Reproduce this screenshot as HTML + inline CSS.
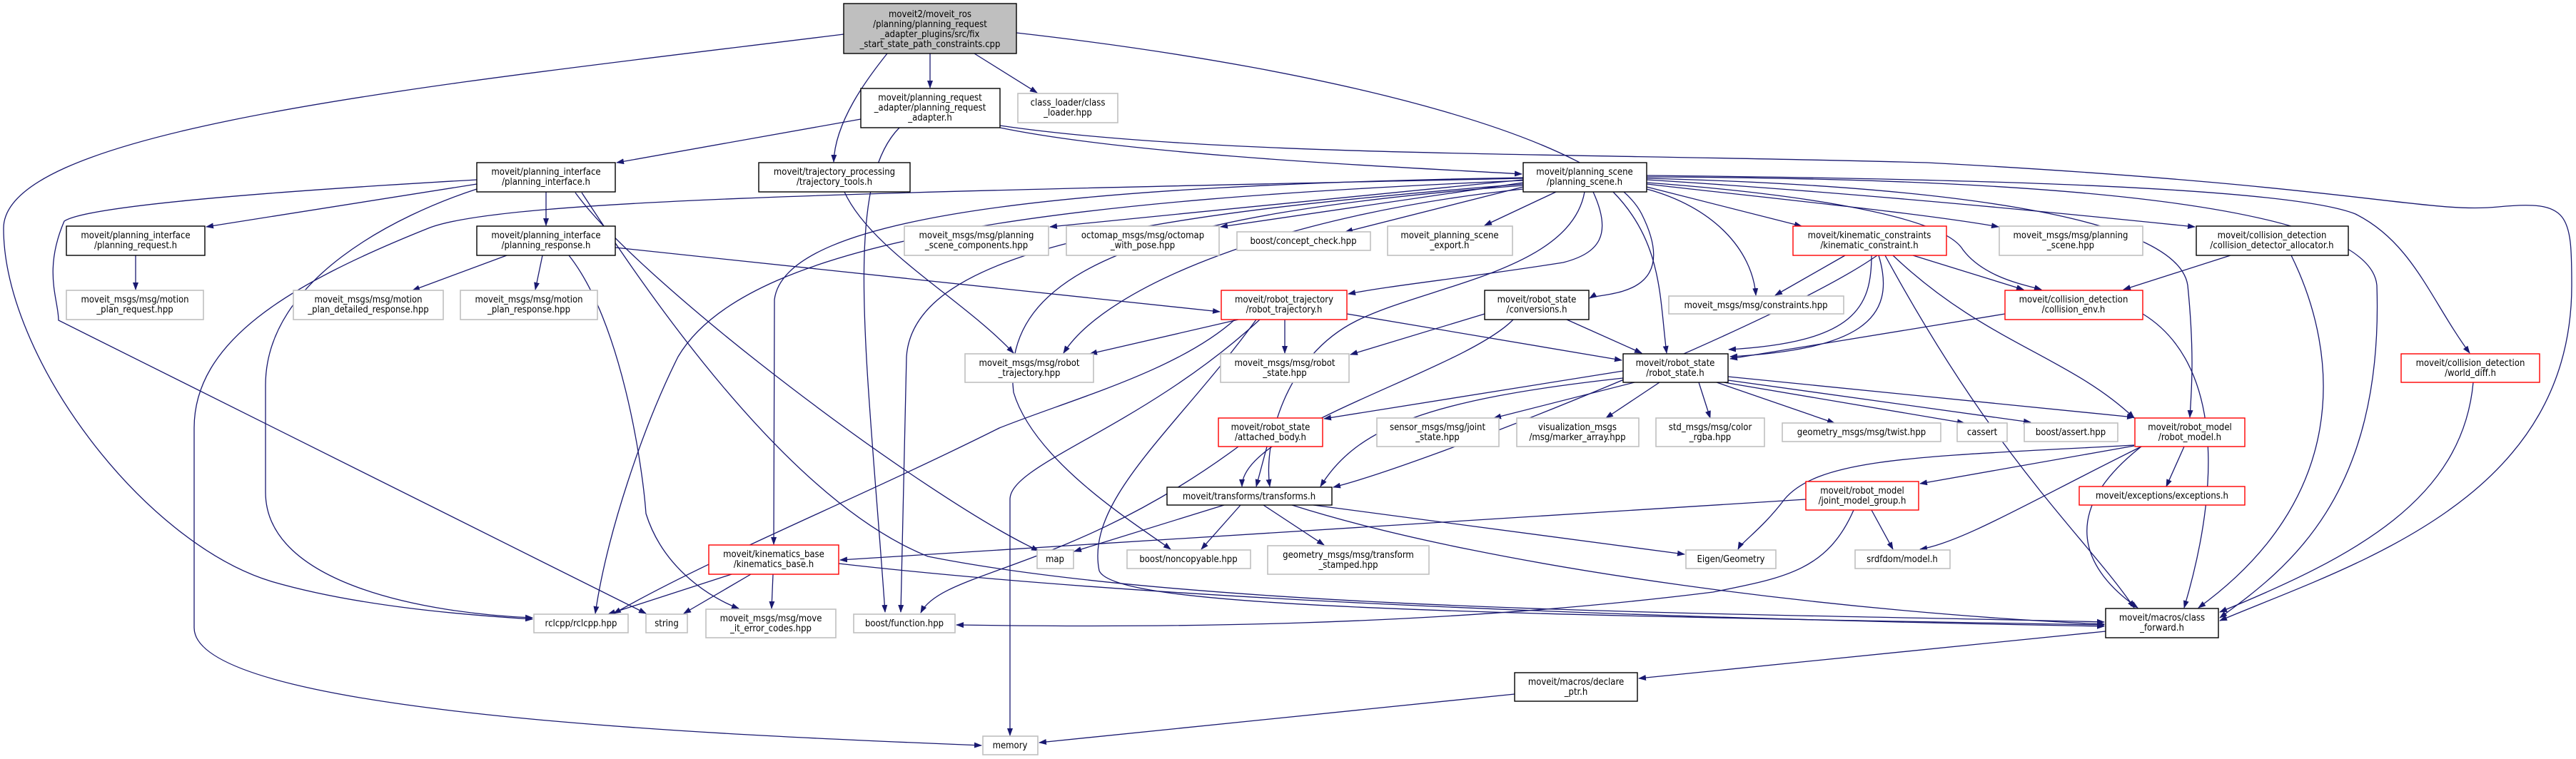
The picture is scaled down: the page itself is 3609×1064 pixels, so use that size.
<!DOCTYPE html>
<html><head><meta charset="utf-8"><style>
html,body{margin:0;padding:0;background:#fff}
svg{display:block}
text{font-family:"DejaVu Sans Condensed","Liberation Sans Narrow","Liberation Sans",sans-serif;font-size:13px;fill:#000;text-anchor:middle}
.e{fill:none;stroke:#191970;stroke-width:1.3}
.k{fill:#fff;stroke:#000;stroke-width:1.4}
.g{fill:#fff;stroke:#bfbfbf;stroke-width:1.6}
.r{fill:#fff;stroke:#ff0000;stroke-width:1.4}
.root{fill:#bfbfbf;stroke:#000;stroke-width:1.4}
</style></head><body>
<svg width="3609" height="1064" viewBox="0 0 3609 1064" xmlns="http://www.w3.org/2000/svg">
<defs><marker id="a" markerWidth="11" markerHeight="8" refX="10" refY="4" orient="auto" markerUnits="userSpaceOnUse"><path d="M0,0 L11,4 L0,8z" fill="#191970"/></marker></defs>
<g marker-end="url(#a)">
<path class="e" d="M1182,48 C600,120 5,180 5,320 C5,500 200,760 380,815 C500,850 650,862 746,868"/>
<path class="e" d="M1303,75 L1303,123"/>
<path class="e" d="M1365,75 L1453,130"/>
<path class="e" d="M1243,75 C1215,110 1170,170 1168,227"/>
<path class="e" d="M1424,46 C1900,100 2250,200 2300,300 C2360,420 2240,410 2227,418"/>
<path class="e" d="M1206,167 L864,228"/>
<path class="e" d="M1401,179 C1600,220 2000,236 2132,244"/>
<path class="e" d="M1401,176 C1700,220 2200,214 2700,228 C3300,260 3400,300 3500,290 C3600,280 3603,300 3603,400 C3603,700 3300,790 3110,870"/>
<path class="e" d="M1260,179 C1180,260 1215,500 1240,858"/>
<path class="e" d="M668,258 L289,318"/>
<path class="e" d="M765,269 L765,316"/>
<path class="e" d="M668,252 C350,270 120,290 90,310 C60,380 82,420 82,449 L905,860"/>
<path class="e" d="M668,265 C560,300 372,390 372,540 L372,690 C372,820 600,860 746,866"/>
<path class="e" d="M806,270 C900,400 1300,700 1455,772"/>
<path class="e" d="M815,270 C900,400 1100,700 1300,780 C1700,860 2500,860 2948,872"/>
<path class="e" d="M710,358 L578,407"/>
<path class="e" d="M760,358 L750,406"/>
<path class="e" d="M862,347 L1709,437"/>
<path class="e" d="M797,358 C870,450 900,650 905,720 C930,800 1000,840 1035,853"/>
<path class="e" d="M190,358 L190,406"/>
<path class="e" d="M1183,269 C1220,350 1350,420 1420,495"/>
<path class="e" d="M2134,252 L1471,318"/>
<path class="e" d="M2134,256 L1710,318"/>
<path class="e" d="M2134,262 L1885,325"/>
<path class="e" d="M2180,269 L2080,316"/>
<path class="e" d="M2232,269 C2260,330 2240,355 2190,368 C2050,390 1950,400 1889,412"/>
<path class="e" d="M2260,269 C2330,340 2325,420 2335,495"/>
<path class="e" d="M2220,269 C2200,380 2000,400 1900,450 C1800,500 1770,620 1779,682"/>
<path class="e" d="M2307,262 L2524,317"/>
<path class="e" d="M2307,258 C2500,280 2700,300 2800,318"/>
<path class="e" d="M2307,252 C2600,270 2900,300 3075,318"/>
<path class="e" d="M2307,256 C2500,270 2720,300 2750,350 C2780,390 2840,400 2860,406"/>
<path class="e" d="M2307,246 C2700,250 3200,260 3300,300 C3380,340 3405,420 3460,495"/>
<path class="e" d="M2307,250 C2700,260 3050,300 3065,400 C3075,500 3070,550 3068,585"/>
<path class="e" d="M2307,248 C2900,250 3320,290 3330,400 C3340,700 3200,800 3110,866"/>
<path class="e" d="M2307,265 C2400,290 2455,350 2460,414"/>
<path class="e" d="M2134,265 C1800,300 1550,400 1490,495"/>
<path class="e" d="M2134,249 C1500,260 1100,300 1085,420 L1084,763"/>
<path class="e" d="M2134,253 C1500,280 1050,330 950,500 C900,600 850,750 834,860"/>
<path class="e" d="M2134,258 C1600,300 1280,350 1270,500 L1262,858"/>
<path class="e" d="M2134,250 C1200,270 700,280 600,320 C400,400 272,480 272,600 L272,880 C272,1000 1000,1030 1375,1045"/>
<path class="e" d="M2134,260 C1600,300 1400,380 1420,550 C1450,650 1600,740 1640,770"/>
<path class="e" d="M1735,448 L1527,496"/>
<path class="e" d="M1800,448 L1800,495"/>
<path class="e" d="M1887,440 L2272,505"/>
<path class="e" d="M1730,448 C1650,520 1500,560 1400,600 C1200,700 1000,780 860,860"/>
<path class="e" d="M1765,448 C1600,600 1415,650 1415,700 L1415,1031"/>
<path class="e" d="M1760,448 C1650,600 1520,700 1540,800 C1560,850 2000,860 2948,876"/>
<path class="e" d="M2080,440 L1892,497"/>
<path class="e" d="M2195,448 L2300,495"/>
<path class="e" d="M2120,448 C2050,520 1740,600 1740,682"/>
<path class="e" d="M2585,358 L2487,414"/>
<path class="e" d="M2680,358 L2835,406"/>
<path class="e" d="M2622,358 C2622,430 2600,480 2422,490"/>
<path class="e" d="M2632,358 C2660,450 2600,490 2424,500"/>
<path class="e" d="M2652,358 C2780,480 2900,500 2990,586"/>
<path class="e" d="M2641,358 C2800,650 2920,750 2990,852"/>
<path class="e" d="M2630,358 C2500,450 2000,650 1868,683"/>
<path class="e" d="M3125,358 L2975,406"/>
<path class="e" d="M3210,358 C3280,500 3290,700 3080,852"/>
<path class="e" d="M2809,440 L2424,503"/>
<path class="e" d="M3002,440 C3100,500 3120,650 3060,852"/>
<path class="e" d="M3465,536 C3450,700 3300,780 3110,858"/>
<path class="e" d="M2274,520 L1855,587"/>
<path class="e" d="M2290,536 L2093,586"/>
<path class="e" d="M2325,536 L2250,586"/>
<path class="e" d="M2380,536 L2396,586"/>
<path class="e" d="M2405,536 L2570,593"/>
<path class="e" d="M2415,536 L2752,593"/>
<path class="e" d="M2421,533 L2845,592"/>
<path class="e" d="M2421,528 L2990,585"/>
<path class="e" d="M2274,530 C2000,560 1900,600 1850,682"/>
<path class="e" d="M1775,626 L1760,682"/>
<path class="e" d="M1735,626 C1500,800 1320,800 1290,859"/>
<path class="e" d="M1715,708 L1505,773"/>
<path class="e" d="M1738,708 L1683,770"/>
<path class="e" d="M1770,708 L1855,764"/>
<path class="e" d="M1840,708 L2360,777"/>
<path class="e" d="M1810,708 C2100,800 2600,860 2948,875"/>
<path class="e" d="M2990,625 L2690,678"/>
<path class="e" d="M3060,626 L3035,682"/>
<path class="e" d="M2990,624 C2700,640 2550,640 2500,700 C2470,740 2440,760 2435,770"/>
<path class="e" d="M3000,626 C2850,700 2750,760 2690,770"/>
<path class="e" d="M3000,626 C2880,720 2920,800 2995,852"/>
<path class="e" d="M2530,700 L1177,785"/>
<path class="e" d="M2622,715 L2652,770"/>
<path class="e" d="M2597,715 C2560,800 2500,810 2400,830 C2000,880 1600,880 1340,876"/>
<path class="e" d="M1025,805 L852,861"/>
<path class="e" d="M1052,805 L958,860"/>
<path class="e" d="M1083,805 L1081,853"/>
<path class="e" d="M1175,790 C1700,850 2500,870 2948,878"/>
<path class="e" d="M2950,885 L2296,951"/>
<path class="e" d="M2122,973 L1456,1041"/>
</g>
<g>
<rect class="root" x="1182" y="5" width="242" height="70"/>
<text x="1303" y="24">moveit2/moveit_ros</text><text x="1303" y="38">/planning/planning_request</text><text x="1303" y="52">_adapter_plugins/src/fix</text><text x="1303" y="66">_start_state_path_constraints.cpp</text>

<rect class="k" x="1206" y="124" width="195" height="55"/>
<text x="1303" y="141">moveit/planning_request</text><text x="1303" y="155">_adapter/planning_request</text><text x="1303" y="169">_adapter.h</text>

<rect class="g" x="1426" y="131" width="140" height="41"/>
<text x="1496" y="148">class_loader/class</text><text x="1496" y="162">_loader.hpp</text>

<rect class="k" x="668" y="228" width="194" height="41"/>
<text x="765" y="245">moveit/planning_interface</text><text x="765" y="259">/planning_interface.h</text>

<rect class="k" x="1063" y="228" width="212" height="41"/>
<text x="1169" y="245">moveit/trajectory_processing</text><text x="1169" y="259">/trajectory_tools.h</text>

<rect class="k" x="2134" y="228" width="173" height="41"/>
<text x="2220" y="245">moveit/planning_scene</text><text x="2220" y="259">/planning_scene.h</text>

<rect class="k" x="93" y="317" width="194" height="41"/>
<text x="190" y="334">moveit/planning_interface</text><text x="190" y="348">/planning_request.h</text>

<rect class="k" x="668" y="317" width="194" height="41"/>
<text x="765" y="334">moveit/planning_interface</text><text x="765" y="348">/planning_response.h</text>

<rect class="g" x="1267" y="317" width="202" height="41"/>
<text x="1368" y="334">moveit_msgs/msg/planning</text><text x="1368" y="348">_scene_components.hpp</text>

<rect class="g" x="1494" y="317" width="214" height="41"/>
<text x="1601" y="334">octomap_msgs/msg/octomap</text><text x="1601" y="348">_with_pose.hpp</text>

<rect class="g" x="1733" y="325" width="187" height="26"/>
<text x="1826" y="342">boost/concept_check.hpp</text>

<rect class="g" x="1944" y="317" width="175" height="41"/>
<text x="2031" y="334">moveit_planning_scene</text><text x="2031" y="348">_export.h</text>

<rect class="r" x="2512" y="317" width="215" height="41"/>
<text x="2619" y="334">moveit/kinematic_constraints</text><text x="2619" y="348">/kinematic_constraint.h</text>

<rect class="g" x="2801" y="317" width="201" height="41"/>
<text x="2901" y="334">moveit_msgs/msg/planning</text><text x="2901" y="348">_scene.hpp</text>

<rect class="k" x="3077" y="317" width="213" height="41"/>
<text x="3183" y="334">moveit/collision_detection</text><text x="3183" y="348">/collision_detector_allocator.h</text>

<rect class="g" x="93" y="407" width="192" height="41"/>
<text x="189" y="424">moveit_msgs/msg/motion</text><text x="189" y="438">_plan_request.hpp</text>

<rect class="g" x="411" y="407" width="210" height="41"/>
<text x="516" y="424">moveit_msgs/msg/motion</text><text x="516" y="438">_plan_detailed_response.hpp</text>

<rect class="g" x="645" y="407" width="192" height="41"/>
<text x="741" y="424">moveit_msgs/msg/motion</text><text x="741" y="438">_plan_response.hpp</text>

<rect class="r" x="1711" y="407" width="176" height="41"/>
<text x="1799" y="424">moveit/robot_trajectory</text><text x="1799" y="438">/robot_trajectory.h</text>

<rect class="k" x="2080" y="407" width="146" height="41"/>
<text x="2153" y="424">moveit/robot_state</text><text x="2153" y="438">/conversions.h</text>

<rect class="g" x="2338" y="415" width="245" height="25"/>
<text x="2460" y="432">moveit_msgs/msg/constraints.hpp</text>

<rect class="r" x="2809" y="407" width="193" height="41"/>
<text x="2905" y="424">moveit/collision_detection</text><text x="2905" y="438">/collision_env.h</text>

<rect class="g" x="1352" y="496" width="180" height="40"/>
<text x="1442" y="513">moveit_msgs/msg/robot</text><text x="1442" y="527">_trajectory.hpp</text>

<rect class="g" x="1710" y="496" width="180" height="40"/>
<text x="1800" y="513">moveit_msgs/msg/robot</text><text x="1800" y="527">_state.hpp</text>

<rect class="k" x="2274" y="496" width="147" height="40"/>
<text x="2347" y="513">moveit/robot_state</text><text x="2347" y="527">/robot_state.h</text>

<rect class="r" x="3364" y="496" width="194" height="40"/>
<text x="3461" y="513">moveit/collision_detection</text><text x="3461" y="527">/world_diff.h</text>

<rect class="r" x="1707" y="586" width="146" height="40"/>
<text x="1780" y="603">moveit/robot_state</text><text x="1780" y="617">/attached_body.h</text>

<rect class="g" x="1929" y="586" width="171" height="40"/>
<text x="2014" y="603">sensor_msgs/msg/joint</text><text x="2014" y="617">_state.hpp</text>

<rect class="g" x="2125" y="586" width="171" height="40"/>
<text x="2210" y="603">visualization_msgs</text><text x="2210" y="617">/msg/marker_array.hpp</text>

<rect class="g" x="2320" y="586" width="152" height="40"/>
<text x="2396" y="603">std_msgs/msg/color</text><text x="2396" y="617">_rgba.hpp</text>

<rect class="g" x="2497" y="593" width="222" height="26"/>
<text x="2608" y="610">geometry_msgs/msg/twist.hpp</text>

<rect class="g" x="2742" y="593" width="70" height="26"/>
<text x="2777" y="610">cassert</text>

<rect class="g" x="2836" y="593" width="131" height="26"/>
<text x="2901" y="610">boost/assert.hpp</text>

<rect class="r" x="2991" y="586" width="154" height="40"/>
<text x="3068" y="603">moveit/robot_model</text><text x="3068" y="617">/robot_model.h</text>

<rect class="k" x="1635" y="683" width="231" height="25"/>
<text x="1750" y="700">moveit/transforms/transforms.h</text>

<rect class="r" x="2530" y="675" width="158" height="40"/>
<text x="2609" y="692">moveit/robot_model</text><text x="2609" y="706">/joint_model_group.h</text>

<rect class="r" x="2913" y="682" width="232" height="26"/>
<text x="3029" y="699">moveit/exceptions/exceptions.h</text>

<rect class="r" x="993" y="764" width="182" height="41"/>
<text x="1084" y="781">moveit/kinematics_base</text><text x="1084" y="795">/kinematics_base.h</text>

<rect class="g" x="1453" y="771" width="51" height="26"/>
<text x="1478" y="788">map</text>

<rect class="g" x="1579" y="771" width="173" height="26"/>
<text x="1665" y="788">boost/noncopyable.hpp</text>

<rect class="g" x="1776" y="765" width="226" height="40"/>
<text x="1889" y="782">geometry_msgs/msg/transform</text><text x="1889" y="796">_stamped.hpp</text>

<rect class="g" x="2362" y="771" width="126" height="26"/>
<text x="2425" y="788">Eigen/Geometry</text>

<rect class="g" x="2599" y="771" width="133" height="26"/>
<text x="2665" y="788">srdfdom/model.h</text>

<rect class="g" x="748" y="861" width="132" height="26"/>
<text x="814" y="878">rclcpp/rclcpp.hpp</text>

<rect class="g" x="905" y="861" width="58" height="26"/>
<text x="934" y="878">string</text>

<rect class="g" x="989" y="854" width="182" height="40"/>
<text x="1080" y="871">moveit_msgs/msg/move</text><text x="1080" y="885">_it_error_codes.hpp</text>

<rect class="g" x="1196" y="861" width="142" height="26"/>
<text x="1267" y="878">boost/function.hpp</text>

<rect class="k" x="2950" y="853" width="158" height="41"/>
<text x="3029" y="870">moveit/macros/class</text><text x="3029" y="884">_forward.h</text>

<rect class="k" x="2122" y="943" width="172" height="40"/>
<text x="2208" y="960">moveit/macros/declare</text><text x="2208" y="974">_ptr.h</text>

<rect class="g" x="1377" y="1032" width="77" height="26"/>
<text x="1415" y="1049">memory</text>
</g>
</svg>
</body></html>
